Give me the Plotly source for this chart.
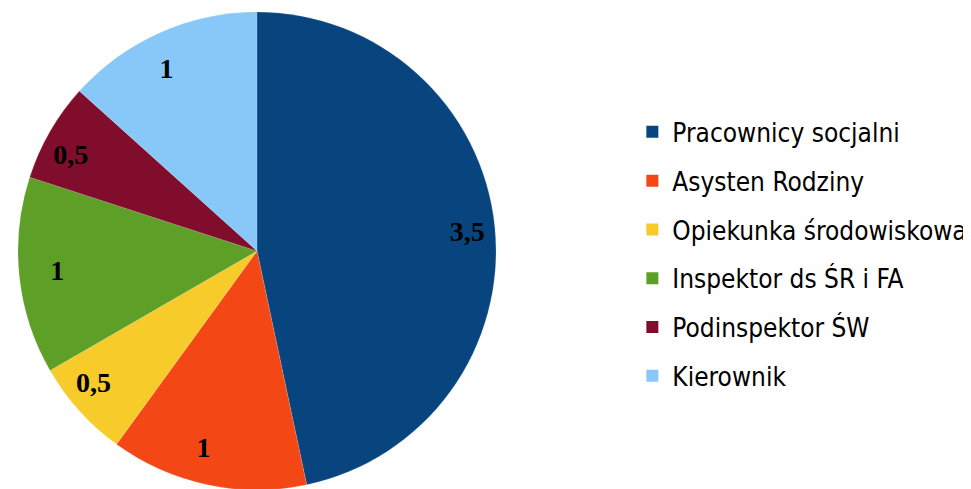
import plotly.graph_objects as go

labels = ["Pracownicy socjalni", "Asysten Rodziny", "Opiekunka środowiskowa",
          "Inspektor ds ŚR i FA", "Podinspektor ŚW", "Kierownik"]
values = [3.5, 1, 0.5, 1, 0.5, 1]
text_labels = ["3,5", "1", "0,5", "1", "0,5", "1"]
colors = ["#08457E", "#F44716", "#F7CB2A", "#5E9F28", "#800D2C", "#88C8F8"]

W, H = 971, 489

def dom(cx, cy, r):
    # cx, cy in pixels from top-left
    return dict(x=[(cx - r) / W, (cx + r) / W], y=[1 - (cy + r) / H, 1 - (cy - r) / H])

fig = go.Figure()
fig.add_trace(go.Pie(
    labels=labels, values=values,
    textinfo="none",
    sort=False, direction="clockwise", rotation=0,
    marker=dict(colors=colors, line=dict(color="rgba(255,255,255,0.25)", width=0.5)),
    domain=dom(249, 243, 239),
    showlegend=False, hoverinfo="label+value",
))
# overlay carrying the value labels near the outer rim
fig.add_trace(go.Pie(
    labels=labels, values=values, text=text_labels,
    textinfo="text", textposition="outside",
    sort=False, direction="clockwise", rotation=0,
    marker=dict(colors=["rgba(0,0,0,0)"] * len(values), line=dict(width=0)),
    outsidetextfont=dict(family="Liberation Serif", size=28, color="black", weight="bold"),
    domain=dom(249, 243, 186),
    showlegend=False, hoverinfo="skip",
))

for i, (lab, col) in enumerate(zip(labels, colors)):
    fig.add_trace(go.Scatter(
        x=[None], y=[None], mode="markers", name=lab,
        marker=dict(symbol="square", size=15, color=col),
        legendgroup=f"g{i}", showlegend=True,
    ))

fig.update_layout(
    width=W, height=H,
    margin=dict(l=0, r=0, t=0, b=0),
    paper_bgcolor="white", plot_bgcolor="white",
    xaxis=dict(visible=False), yaxis=dict(visible=False),
    legend=dict(x=0.643, y=0.497, xanchor="left", yanchor="middle",
                font=dict(family="DejaVu Sans Condensed, DejaVu Sans", size=26, color="black"),
                tracegroupgap=12, itemsizing="constant"),
)
fig.write_html("out.html")
